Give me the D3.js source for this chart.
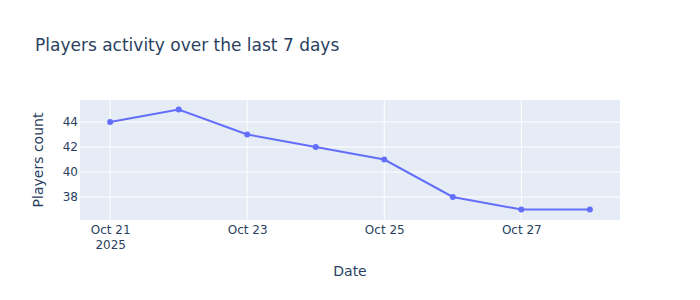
<!DOCTYPE html>
<html>
<head>
<meta charset="utf-8">
<script src="https://cdn.jsdelivr.net/npm/d3@7"></script>
<style>
  body { margin: 0; background: #fff; }
  text { font-family: "DejaVu Sans", verdana, arial, sans-serif; fill: #2a3f5f; }
</style>
</head>
<body>
<svg id="chart" width="700" height="300"></svg>
<script>
// data
const dates = ["2025-10-21", "2025-10-22", "2025-10-23", "2025-10-24",
               "2025-10-25", "2025-10-26", "2025-10-27", "2025-10-28"];
const players = [44, 45, 43, 42, 41, 38, 37, 37];
const yTicks = [38, 40, 42, 44];
const xTicks = ["2025-10-21", "2025-10-23", "2025-10-25", "2025-10-27"];

const W = 700, H = 300;
const m = {l: 80, r: 80, t: 100, b: 80};
const FONT = '"DejaVu Sans", verdana, arial, sans-serif';
const svg = d3.select("#chart");

const parse = d3.utcParse("%Y-%m-%d");
const pts = dates.map((d, i) => ({date: parse(d), val: players[i]}));

// autorange-ish padding
const ext = d3.extent(pts, d => d.date);
const pad = 0.44 * 864e5;
const x = d3.scaleUtc()
    .domain([new Date(+ext[0] - pad), new Date(+ext[1] + pad)])
    .range([m.l, W - m.r]);
const y = d3.scaleLinear()
    .domain([36.16, 45.76])
    .range([H - m.b, m.t]);

svg.append("rect")
    .attr("x", m.l).attr("y", m.t)
    .attr("width", W - m.l - m.r).attr("height", H - m.t - m.b)
    .attr("fill", "#e5ecf6");

// grid
svg.append("g").selectAll("line").data(xTicks).enter().append("line")
    .attr("x1", d => x(parse(d))).attr("x2", d => x(parse(d)))
    .attr("y1", m.t).attr("y2", H - m.b)
    .attr("stroke", "#fff").attr("stroke-width", 1);
svg.append("g").selectAll("line").data(yTicks).enter().append("line")
    .attr("x1", m.l).attr("x2", W - m.r)
    .attr("y1", d => y(d)).attr("y2", d => y(d))
    .attr("stroke", "#fff").attr("stroke-width", 1);

// axes
const fmt = d3.utcFormat("%b %-d");
const xAxis = svg.append("g")
    .attr("transform", `translate(0,${H - m.b})`)
    .call(d3.axisBottom(x).tickValues(xTicks.map(parse)).tickFormat(fmt).tickSize(0).tickPadding(5));
xAxis.select(".domain").remove();
xAxis.selectAll("text").attr("font-size", 12).attr("fill", "#2a3f5f").attr("font-family", FONT);
xAxis.selectAll(".tick").filter((d, i) => i === 0).select("text")
    .append("tspan").attr("x", 0).attr("dy", "1.25em").text("2025");

const yAxis = svg.append("g")
    .attr("transform", `translate(${m.l},0)`)
    .call(d3.axisLeft(y).tickValues(yTicks).tickSize(0).tickPadding(2));
yAxis.select(".domain").remove();
yAxis.selectAll("text").attr("font-size", 12).attr("fill", "#2a3f5f").attr("font-family", FONT);

// line + markers
const line = d3.line().x(d => x(d.date)).y(d => y(d.val));
svg.append("path").datum(pts)
    .attr("d", line)
    .attr("fill", "none")
    .attr("stroke", "#636efa")
    .attr("stroke-width", 2);
svg.append("g").selectAll("circle").data(pts).enter().append("circle")
    .attr("cx", d => x(d.date)).attr("cy", d => y(d.val))
    .attr("r", 3).attr("fill", "#636efa");

// titles
svg.append("text").attr("x", 35).attr("y", 51)
    .attr("font-size", 17).text("Players activity over the last 7 days");
svg.append("text").attr("x", (m.l + W - m.r) / 2).attr("y", 276)
    .attr("text-anchor", "middle").attr("font-size", 14).text("Date");
svg.append("text")
    .attr("transform", `translate(43,${(m.t + H - m.b) / 2}) rotate(-90)`)
    .attr("text-anchor", "middle").attr("font-size", 14).text("Players count");
</script>
</body>
</html>
